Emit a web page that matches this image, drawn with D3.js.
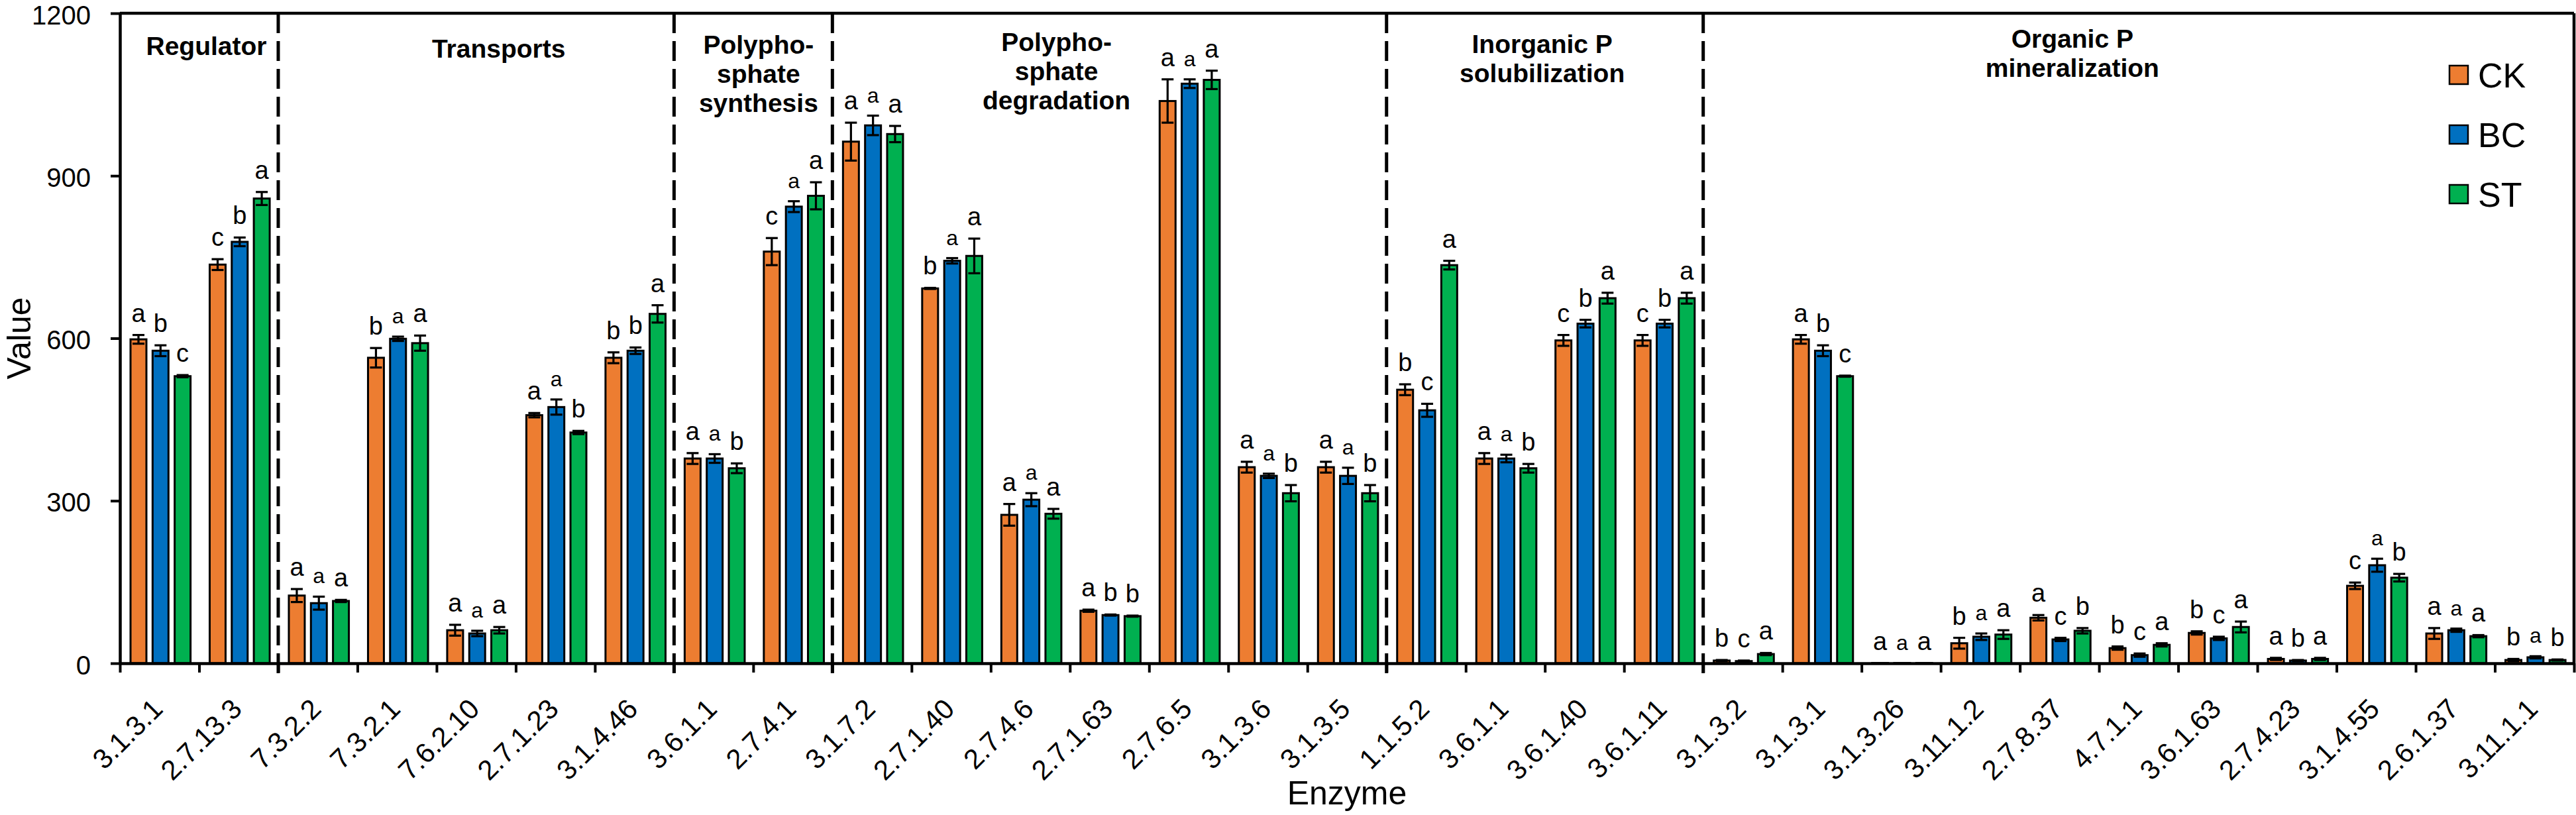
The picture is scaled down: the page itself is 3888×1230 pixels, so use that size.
<!DOCTYPE html>
<html>
<head>
<meta charset="utf-8">
<script src="https://cdn.jsdelivr.net/npm/d3@7"></script>
<style>
html,body{margin:0;padding:0;background:#fff;}
svg{display:block;}
text{font-family:"Liberation Sans",Arial,Helvetica,sans-serif;fill:#000;}
</style>
</head>
<body>
<script>
// ---------------- DATA ----------------
const categories = ["3.1.3.1","2.7.13.3","7.3.2.2","7.3.2.1","7.6.2.10","2.7.1.23","3.1.4.46",
  "3.6.1.1","2.7.4.1","3.1.7.2","2.7.1.40","2.7.4.6","2.7.1.63","2.7.6.5","3.1.3.6","3.1.3.5",
  "1.1.5.2","3.6.1.1","3.6.1.40","3.6.1.11","3.1.3.2","3.1.3.1","3.1.3.26","3.11.1.2","2.7.8.37",
  "4.7.1.1","3.6.1.63","2.7.4.23","3.1.4.55","2.6.1.37","3.11.1.1"];
const groupNames = [["Regulator"],["Transports"],["Polypho-","sphate","synthesis"],
  ["Polypho-","sphate","degradation"],["Inorganic P","solubilization"],["Organic P","mineralization"]];
const groupSizes = [2,5,2,7,4,11];
const series = ["CK","BC","ST"];
const ckValues = [598,736,125,564,61,458,564,378,760,963,692,274,97,1038,362,362,505,378,596,596,5,598,0.5,37,84,28,56,8,143,55,6];
const bcValues = [577,778,111,599,55,473,577,378,843,993,743,302,89,1070,346,346,467,378,627,627,4,577,0.5,49,44,15,46,5,181,61,11];
const stValues = [530,858,115,591,61,426,645,360,863,977,752,276,87,1077,314,314,735,360,674,674,17,530,0.5,53,60,34,67,8,158,50,6];
const ckErrors = [8,10,12,18,10,4,10,10,25,35,1,20,2,40,10,10,10,10,10,10,1,8,0,10,5,3,3,2,6,10,2];
const bcErrors = [10,8,12,4,5,14,6,8,10,18,5,12,1,8,4,15,12,7,7,7,1,10,0,6,3,3,3,1,12,3,2];
const stErrors = [2,12,2,14,6,3,16,9,25,15,32,9,1,17,15,15,8,8,10,10,2,1,0,8,5,3,10,2,7,2,1];
const ckLetters = ["a","c","a","b","a","a","b","a","c","a","b","a","a","a","a","a","b","a","c","c","b","a","a","b","a","b","b","a","c","a","b"];
const bcLetters = ["b","b","a","a","a","a","b","a","a","a","a","a","b","a","a","a","c","a","b","b","c","b","a","a","c","c","c","b","a","a","a"];
const stLetters = ["c","a","a","a","a","b","a","b","a","a","a","a","b","a","b","b","a","b","a","a","a","c","a","a","b","a","a","a","b","a","b"];
const yTicks = [0,300,600,900,1200];
const seriesColors = ["#ED7D31","#0070C0","#00B050"];

// ---------------- LAYOUT ----------------
const W = 3888, H = 1230;
const L = 181, R = 3885, T = 20, B = 1001;
const groupLabelShift = [11,34,8,-80,-4,-100];
const groupLabelBaseline = [83,87,81,77,80,72];

const svg = d3.select("body").append("svg").attr("width", W).attr("height", H);

const x = d3.scaleBand().domain(d3.range(categories.length)).range([L, R]);
const xb = d3.scaleLinear().domain([0, categories.length]).range([L, R]);
const y = d3.scaleLinear().domain([0, 1200]).range([B, T]);
const xs = d3.scaleBand().domain(series).range([14.5, 14.5 + 93.6]).paddingInner(0.19);
const color = d3.scaleOrdinal().domain(series).range(seriesColors);

const valueSets = [ckValues, bcValues, stValues];
const errorSets = [ckErrors, bcErrors, stErrors];
const letterSets = [ckLetters, bcLetters, stLetters];
const rows = [];
categories.forEach((c, i) => series.forEach((s, j) => rows.push({
  i, s, v: valueSets[j][i], e: errorSets[j][i], l: letterSets[j][i]
})));

// bars
const bw = xs.bandwidth();
svg.append("g").selectAll("rect").data(rows).join("rect")
  .attr("x", d => x(d.i) + xs(d.s) + 1.5)
  .attr("width", bw - 3)
  .attr("y", d => y(d.v))
  .attr("height", d => B - y(d.v))
  .attr("fill", d => color(d.s))
  .attr("stroke", "#000").attr("stroke-width", 3);

// error bars
const eg = svg.append("g").attr("stroke", "#000").attr("stroke-width", 3.2);
rows.filter(d => d.e > 0).forEach(d => {
  const cx = x(d.i) + xs(d.s) + bw / 2;
  const y1 = y(d.v + d.e), y2 = y(Math.max(0, d.v - d.e));
  eg.append("line").attr("x1", cx).attr("x2", cx).attr("y1", y1).attr("y2", y2);
  eg.append("line").attr("x1", cx - 9).attr("x2", cx + 9).attr("y1", y1).attr("y2", y1);
  eg.append("line").attr("x1", cx - 9).attr("x2", cx + 9).attr("y1", y2).attr("y2", y2);
});

// significance letters
svg.append("g").selectAll("text").data(rows).join("text")
  .attr("x", d => x(d.i) + xs(d.s) + bw / 2)
  .attr("y", d => y(d.v + d.e) - 20)
  .attr("text-anchor", "middle")
  .attr("font-size", d => (d.s === "BC" && d.l === "a") ? 32 : 38)
  .text(d => d.l);

// dashed group separators
const bounds = d3.cumsum(groupSizes).slice(0, -1);
svg.append("g").selectAll("line").data(bounds).join("line")
  .attr("x1", d => xb(d)).attr("x2", d => xb(d))
  .attr("y1", T).attr("y2", B + 25)
  .attr("stroke", "#000").attr("stroke-width", 5).attr("stroke-dasharray", "30,12");

// group labels
const starts = [0, ...bounds];
groupNames.forEach((lines, gi) => {
  const cx = (xb(starts[gi]) + xb(starts[gi] + groupSizes[gi])) / 2 + groupLabelShift[gi];
  const t = svg.append("text").attr("text-anchor", "middle")
    .attr("font-size", 39).attr("font-weight", "bold");
  lines.forEach((ln, k) => t.append("tspan").attr("x", cx)
    .attr("y", groupLabelBaseline[gi] + k * 44).text(ln));
});

// frame (top & right)
svg.append("line").attr("x1", L).attr("x2", R).attr("y1", T).attr("y2", T)
  .attr("stroke", "#000").attr("stroke-width", 4.5);
svg.append("line").attr("x1", R).attr("x2", R).attr("y1", T).attr("y2", B)
  .attr("stroke", "#000").attr("stroke-width", 4.5);

// y axis
const ya = svg.append("g").attr("transform", `translate(${L},0)`)
  .call(d3.axisLeft(y).tickValues(yTicks).tickFormat(d3.format("d")).tickSize(14).tickPadding(30).tickSizeOuter(0));
ya.select(".domain").attr("stroke-width", 4.5);
ya.selectAll(".tick line").attr("stroke-width", 4);
ya.selectAll(".tick text").attr("font-size", 40).attr("dy", "0.4em")
  .attr("font-family", "Liberation Sans, Arial, sans-serif");

// x axis: ticks at category boundaries
const xa = svg.append("g").attr("transform", `translate(0,${B})`)
  .call(d3.axisBottom(xb).tickValues(d3.range(categories.length + 1)).tickSize(14).tickFormat("").tickSizeOuter(0));
xa.select(".domain").attr("stroke-width", 4.5);
xa.selectAll(".tick line").attr("stroke-width", 4);

// x axis labels at category centers
const xl = svg.append("g").attr("transform", `translate(0,${B})`)
  .call(d3.axisBottom(x).tickSize(0).tickFormat(i => categories[i]));
xl.select(".domain").remove();
xl.selectAll(".tick text")
  .attr("font-size", 42).attr("font-family", "Liberation Sans, Arial, sans-serif")
  .attr("x", 0).attr("y", 0).attr("dy", "0.35em")
  .attr("text-anchor", "end")
  .attr("transform", "translate(-3,61) rotate(-45)");

// axis titles
svg.append("text").attr("x", (L + R) / 2).attr("y", 1214).attr("text-anchor", "middle")
  .attr("font-size", 50).text("Enzyme");
svg.append("text").attr("transform", `translate(46,${(T + B) / 2}) rotate(-90)`)
  .attr("text-anchor", "middle").attr("font-size", 50).text("Value");

// legend
const lg = svg.append("g").selectAll("g").data(series).join("g")
  .attr("transform", (d, k) => `translate(3697,${113 + k * 90})`);
lg.append("rect").attr("x", 0).attr("y", -14).attr("width", 28).attr("height", 28)
  .attr("fill", d => color(d)).attr("stroke", "#000").attr("stroke-width", 2.5);
lg.append("text").attr("x", 43).attr("y", 0).attr("dy", "0.36em")
  .attr("font-size", 52).text(d => d);
</script>
</body>
</html>
